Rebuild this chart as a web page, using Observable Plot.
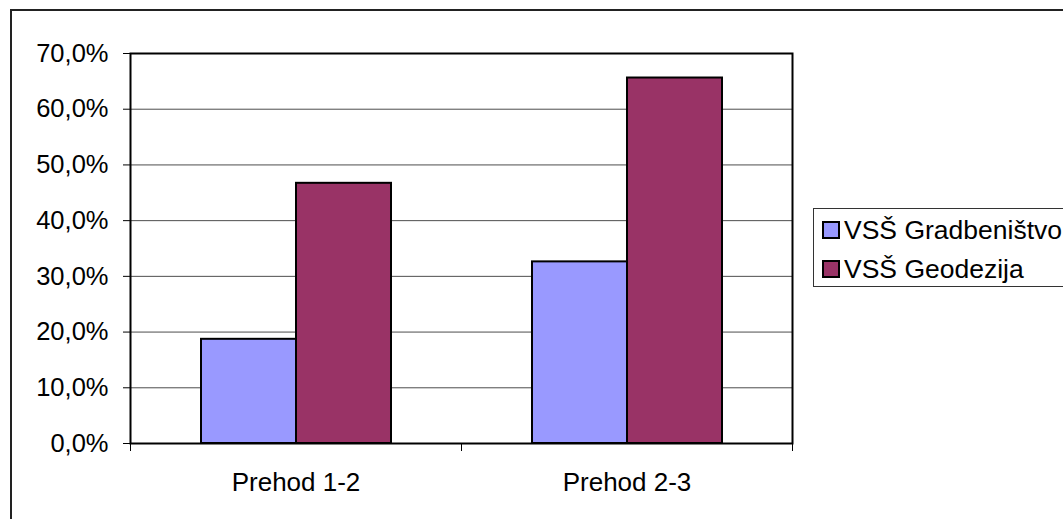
<!DOCTYPE html>
<html><head><meta charset="utf-8">
<script src="https://cdn.jsdelivr.net/npm/d3@7"></script>
<script src="https://cdn.jsdelivr.net/npm/@observablehq/plot@0.6"></script>
<style>
body{margin:0;background:#fff;}
#wrap{position:relative;width:1063px;height:519px;overflow:hidden;font-family:"Liberation Sans",Arial,sans-serif;background:#fff;}
#wrap svg{position:absolute;left:0;top:0;}
#border{position:absolute;left:10px;top:9px;width:1200px;height:700px;border:2px solid #222;box-sizing:border-box;pointer-events:none}
#legend{position:absolute;left:813px;top:208px;width:300px;height:79px;border:1px solid #333;box-sizing:border-box;background:#fff}
.row{position:absolute;left:8px;height:30px;display:flex;align-items:center;font-size:26.5px;color:#000;white-space:nowrap}
.sw{width:14px;height:14px;border:2px solid #000;margin-right:4px}
</style>
</head><body>
<div id="wrap"><div id="border"></div></div>
<script>
const categories = ["Prehod 1-2", "Prehod 2-3"];
const seriesNames = ["VSŠ Gradbeništvo", "VSŠ Geodezija"];
const gradbenistvo = [0.187, 0.326];
const geodezija = [0.467, 0.656];
const yTicks = [0, 0.1, 0.2, 0.3, 0.4, 0.5, 0.6, 0.7];
const colors = ["#9999FF", "#993366"];

const rows = [];
categories.forEach((c, i) => {
  rows.push({cat: c, series: seriesNames[0], value: gradbenistvo[i]});
  rows.push({cat: c, series: seriesNames[1], value: geodezija[i]});
});
const fmt = t => (t * 100).toFixed(1).replace(".", ",") + "%";

const chart = Plot.plot({
  width: 1063,
  height: 519,
  marginTop: 53,
  marginLeft: 130,
  marginRight: 271,
  marginBottom: 76,
  style: {fontFamily: "Liberation Sans, Arial, sans-serif", fontSize: "25px", color: "#000", background: "transparent"},
  x: {type: "band", domain: categories, padding: 0},
  y: {domain: [0, 0.7]},
  color: {domain: seriesNames, range: colors},
  marks: [
    Plot.gridY(yTicks, {stroke: "#000", strokeOpacity: 0.7, strokeWidth: 1}),
    Plot.frame({stroke: "#000", strokeWidth: 2}),
    Plot.barY(rows.filter(d => d.series === seriesNames[0]), {x: "cat", y: "value", fill: "series", stroke: "#000", strokeWidth: 2, insetLeft: 71, insetRight: 165}),
    Plot.barY(rows.filter(d => d.series === seriesNames[1]), {x: "cat", y: "value", fill: "series", stroke: "#000", strokeWidth: 2, insetLeft: 166, insetRight: 70}),
    Plot.ruleX(categories, {x: d => d, dx: -165.5, y1: 0, y2: 0, insetBottom: -8, stroke: "#000"}),
    Plot.ruleX(categories.slice(-1), {x: d => d, dx: 165.5, y1: 0, y2: 0, insetBottom: -8, stroke: "#000"}),
    Plot.axisY({ticks: yTicks, tickFormat: fmt, tickSize: 7, tickPadding: 15, fontSize: 25.5, label: null, stroke: "#000"}),
    Plot.axisX({tickSize: 0, tickPadding: 29, fontSize: 26, label: null})
  ]
});
const wrap = document.getElementById("wrap");
wrap.insertBefore(chart, wrap.firstChild);

const legend = document.createElement("div");
legend.id = "legend";
seriesNames.forEach((s, i) => {
  const row = document.createElement("div");
  row.className = "row";
  row.style.top = (6 + i * 39) + "px";
  const sw = document.createElement("span");
  sw.className = "sw";
  sw.style.background = colors[i];
  const t = document.createElement("span");
  t.textContent = s;
  row.appendChild(sw);
  row.appendChild(t);
  legend.appendChild(row);
});
wrap.appendChild(legend);
</script>
</body></html>
